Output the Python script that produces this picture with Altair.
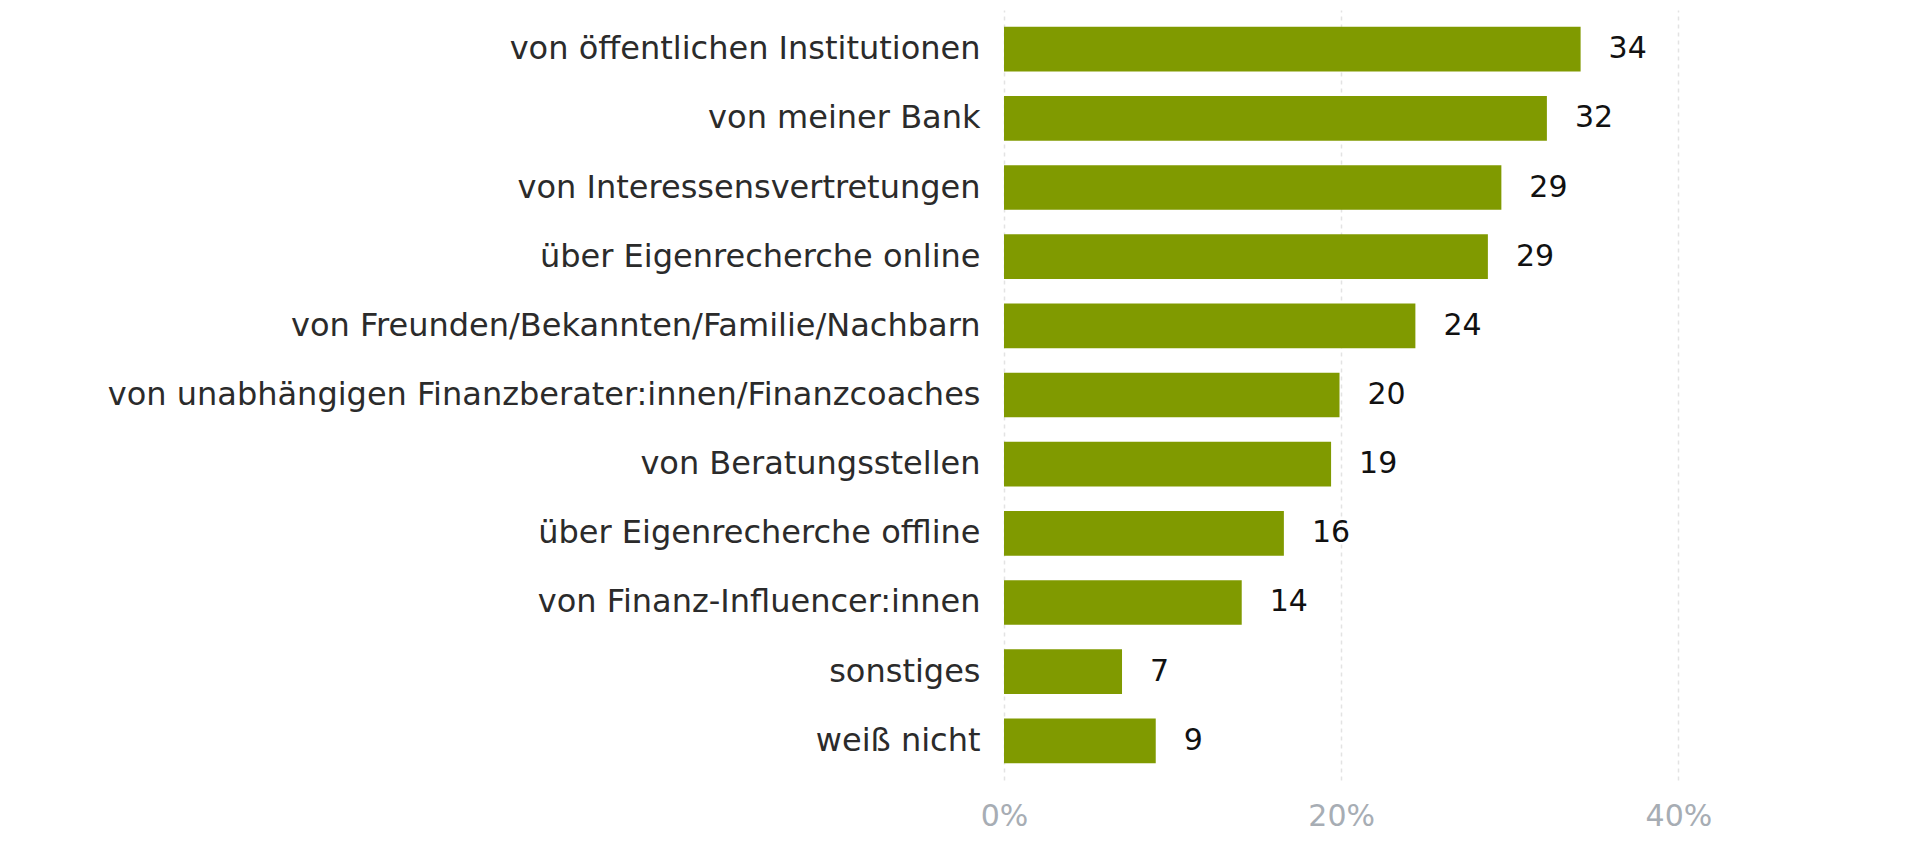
import altair as alt
import pandas as pd

categories = [
    "von öffentlichen Institutionen",
    "von meiner Bank",
    "von Interessensvertretungen",
    "über Eigenrecherche online",
    "von Freunden/Bekannten/Familie/Nachbarn",
    "von unabhängigen Finanzberater:innen/Finanzcoaches",
    "von Beratungsstellen",
    "über Eigenrecherche offline",
    "von Finanz-Influencer:innen",
    "sonstiges",
    "weiß nicht",
]
values = [34.2, 32.2, 29.5, 28.7, 24.4, 19.9, 19.4, 16.6, 14.1, 7.0, 9.0]
value_labels = ["34", "32", "29", "29", "24", "20", "19", "16", "14", "7", "9"]
tick_values = [0, 20, 40]

df = pd.DataFrame({"cat": categories, "val": values, "lab": value_labels})

FONT = "DejaVu Sans"

y_enc = alt.Y(
    "cat:N",
    sort=categories,
    title=None,
    scale=alt.Scale(paddingInner=0.354, paddingOuter=0.244),
    axis=alt.Axis(
        labelFont=FONT,
        labelFontSize=32,
        labelColor="#2b2b2b",
        labelPadding=24,
        labelLimit=1000,
        ticks=False,
        domain=False,
        grid=False,
    ),
)

x_enc = alt.X(
    "val:Q",
    title=None,
    scale=alt.Scale(domain=[0, 50], nice=False),
    axis=alt.Axis(
        values=tick_values,
        labelExpr="datum.value + '%'",
        labelFont=FONT,
        labelFontSize=30,
        labelColor="#a7adb4",
        labelPadding=21,
        labelFlush=False,
        ticks=False,
        domain=False,
        grid=True,
        gridColor="#e3e3e3",
        gridDash=[4, 4],
        gridWidth=1.5,
    ),
)

bars = alt.Chart(df).mark_bar(color="#809a00").encode(x=x_enc, y=y_enc)

texts = alt.Chart(df).mark_text(
    align="left", baseline="middle", dx=28, font=FONT, fontSize=30, color="#111111"
).encode(
    x=alt.X("val:Q"),
    y=alt.Y("cat:N", sort=categories),
    text="lab:N",
)

chart = (
    alt.layer(bars, texts)
    .properties(
        width=843,
        height=770,
        background="white",
        autosize=alt.AutoSizeParams(type="none"),
        padding={"left": 996, "top": 2, "right": 10, "bottom": 70},
    )
    .configure_view(strokeWidth=0, stroke="transparent")
)

chart.save("out.html", embed_options={"renderer": "svg", "actions": False})
